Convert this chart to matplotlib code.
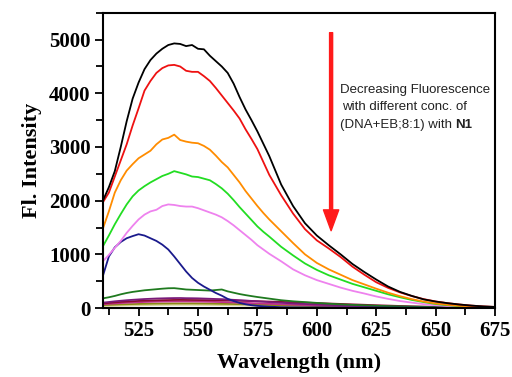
import numpy as np
import matplotlib
matplotlib.use('Agg')
import matplotlib.pyplot as plt
from matplotlib.ticker import MultipleLocator

# wavelength grid (nm): 2.5 nm steps up to 580, 5 nm after
wl = [510, 512.5, 515, 517.5, 520, 522.5, 525, 527.5, 530, 532.5, 535, 537.5, 540, 542.5,
      545, 547.5, 550, 552.5, 555, 557.5, 560, 562.5, 565, 567.5, 570, 572.5, 575, 577.5, 580,
      585, 590, 595, 600, 605, 610, 615, 620, 625, 630, 635, 640, 645, 650, 655, 660, 665,
      670, 675]

# fluorescence spectra
black = [2000, 2250, 2550, 3000, 3480, 3900, 4200, 4450, 4620, 4740, 4830, 4900, 4930, 4920,
         4880, 4900, 4830, 4820, 4700, 4600, 4500, 4380, 4180, 3930, 3700, 3500, 3290, 3060, 2830,
         2300, 1900, 1580, 1350, 1170, 1000, 820, 670, 530, 400, 300, 225, 160, 120, 90, 65, 45,
         30, 20]
red = [1970, 2150, 2450, 2750, 3050, 3400, 3720, 4050, 4230, 4380, 4470, 4520, 4530, 4500,
       4420, 4400, 4400, 4320, 4230, 4100, 3960, 3820, 3680, 3530, 3330, 3150, 2960, 2720, 2480,
       2100, 1760, 1470, 1260, 1110, 950, 770, 620, 480, 375, 290, 222, 165, 122, 90, 65, 45,
       30, 20]
orange = [1480, 1800, 2150, 2380, 2560, 2680, 2790, 2860, 2930, 3050, 3140, 3170, 3230, 3130,
          3100, 3080, 3070, 3020, 2950, 2840, 2720, 2620, 2480, 2340, 2180, 2040, 1900, 1770, 1650,
          1430, 1210, 1000, 840, 720, 620, 520, 440, 360, 285, 220, 165, 120, 85, 60, 40, 28,
          18, 12]
green = [1150, 1350, 1560, 1750, 1930, 2080, 2190, 2270, 2340, 2400, 2460, 2500, 2550, 2520,
         2490, 2450, 2440, 2410, 2380, 2310, 2230, 2130, 2010, 1880, 1760, 1640, 1520, 1420, 1330,
         1140, 980, 830, 710, 610, 530, 450, 385, 320, 255, 200, 150, 110, 75, 52, 35, 24,
         15, 10]
violet = [870, 990, 1120, 1250, 1400, 1530, 1650, 1740, 1800, 1830, 1900, 1930, 1920, 1900,
          1890, 1890, 1860, 1820, 1780, 1740, 1690, 1620, 1540, 1450, 1360, 1270, 1170, 1090, 1010,
          870, 720, 610, 520, 450, 380, 320, 270, 215, 170, 130, 100, 72, 52, 36, 25, 16,
          10, 6]
navy = [600, 960, 1130, 1230, 1300, 1340, 1375, 1350, 1300, 1250, 1180, 1090, 960, 820,
        680, 560, 470, 400, 340, 280, 230, 170, 130, 95, 70, 52, 40, 32, 25,
        15, 12, 10, 10, 9, 9, 8, 8, 8, 7, 7, 7, 6, 6, 6, 5, 5, 5, 5]
dkgreen = [180, 200, 225, 255, 280, 300, 315, 330, 340, 350, 360, 368, 370, 358,
           345, 340, 335, 330, 325, 335, 345, 310, 285, 260, 240, 222, 205, 190, 175,
           145, 125, 110, 95, 80, 68, 58, 50, 42, 35, 30, 25, 20, 17, 14, 12, 10, 8, 6]
purple = [100, 112, 125, 135, 145, 153, 160, 167, 172, 177, 180, 183, 185, 186,
          183, 182, 180, 176, 172, 168, 165, 158, 152, 146, 140, 132, 125, 118, 110,
          97, 85, 75, 65, 57, 50, 44, 38, 33, 28, 24, 20, 17, 14, 12, 10, 8, 7, 6]
maroon = [85, 95, 105, 113, 120, 126, 132, 136, 140, 143, 146, 148, 150, 151,
          150, 149, 148, 147, 145, 144, 142, 140, 138, 135, 132, 129, 126, 123, 120,
          114, 108, 100, 92, 84, 76, 68, 60, 52, 45, 38, 32, 27, 22, 18, 15, 12, 10, 8]
magenta = [70, 78, 85, 92, 98, 103, 108, 112, 115, 118, 120, 121, 122, 122,
           122, 121, 120, 118, 116, 113, 110, 107, 103, 99, 95, 91, 86, 82, 78,
           70, 62, 55, 48, 42, 37, 32, 28, 24, 20, 17, 14, 12, 10, 8, 7, 6, 5, 4]
olive = [55, 59, 63, 67, 70, 73, 76, 78, 80, 82, 83, 84, 85, 85,
         85, 85, 84, 83, 82, 80, 78, 76, 74, 72, 69, 66, 63, 60, 57,
         51, 46, 41, 36, 32, 28, 25, 22, 19, 16, 14, 12, 10, 8, 7, 6, 5, 4, 4]
beige = [38, 40, 43, 46, 48, 50, 52, 54, 55, 57, 58, 59, 60, 60,
         60, 60, 59, 58, 57, 56, 54, 53, 51, 49, 47, 45, 43, 41, 39,
         35, 31, 28, 25, 22, 19, 17, 15, 13, 11, 10, 8, 7, 6, 5, 4, 4, 3, 3]

series = [beige, olive, magenta, maroon, purple, dkgreen, navy, violet, green, orange, red, black]
colors = ['#d8d49a', '#8c8a14', '#c0308a', '#8a0a30', '#7a1a7a', '#1f7a1f', '#1a1a8c',
          '#ee82ee', '#22dd22', '#ff8c00', '#ee1111', '#000000']

serif = 'Liberation Serif'
sans = 'Liberation Sans'

fig = plt.figure(figsize=(5.12, 3.77), dpi=100)
ax = fig.add_axes([0.201, 0.183, 0.766, 0.783])

for s, c in zip(series, colors):
    ax.plot(wl, s, color=c, lw=1.3)

ax.set_xlim(510, 675)
ax.set_ylim(0, 5500)
ax.xaxis.set_major_locator(MultipleLocator(25))
ax.xaxis.set_minor_locator(MultipleLocator(12.5))
ax.yaxis.set_major_locator(MultipleLocator(1000))
ax.yaxis.set_minor_locator(MultipleLocator(500))
ax.tick_params(which='both', direction='out', width=1.3, top=False, right=False)
ax.tick_params(which='major', length=6, pad=3)
ax.tick_params(which='minor', length=5)
for sp in ax.spines.values():
    sp.set_linewidth(1.5)
for lab in ax.get_xticklabels() + ax.get_yticklabels():
    lab.set_fontfamily(serif)
    lab.set_fontweight('bold')
    lab.set_fontsize(15)

ax.set_xlabel('Wavelength (nm)', fontfamily=serif, fontweight='bold', fontsize=16, labelpad=9)
ax.set_ylabel('Fl. Intensity', fontfamily=serif, fontweight='bold', fontsize=16, labelpad=5)

# arrow and note
ax.annotate('', xy=(606, 1440), xytext=(606, 5130),
            arrowprops=dict(color='#ff1a1a', width=2.2, headwidth=11, headlength=15, shrink=0))
ax.text(609.7, 4060, 'Decreasing Fluorescence', fontfamily=sans, fontsize=9.5,
        color='#222222', va='center')
ax.text(610.6, 3740, 'with different conc. of', fontfamily=sans, fontsize=9.5,
        color='#222222', va='center')
t3 = ax.text(609.7, 3410, '(DNA+EB;8:1) with ', fontfamily=sans, fontsize=9.5,
             color='#222222', va='center')
ax.annotate('N1', xy=(1, 0.5), xycoords=t3, va='center', ha='left', fontfamily=sans,
            fontsize=9.5, fontweight='bold', color='#222222')

fig.savefig('out.png', dpi=100)
